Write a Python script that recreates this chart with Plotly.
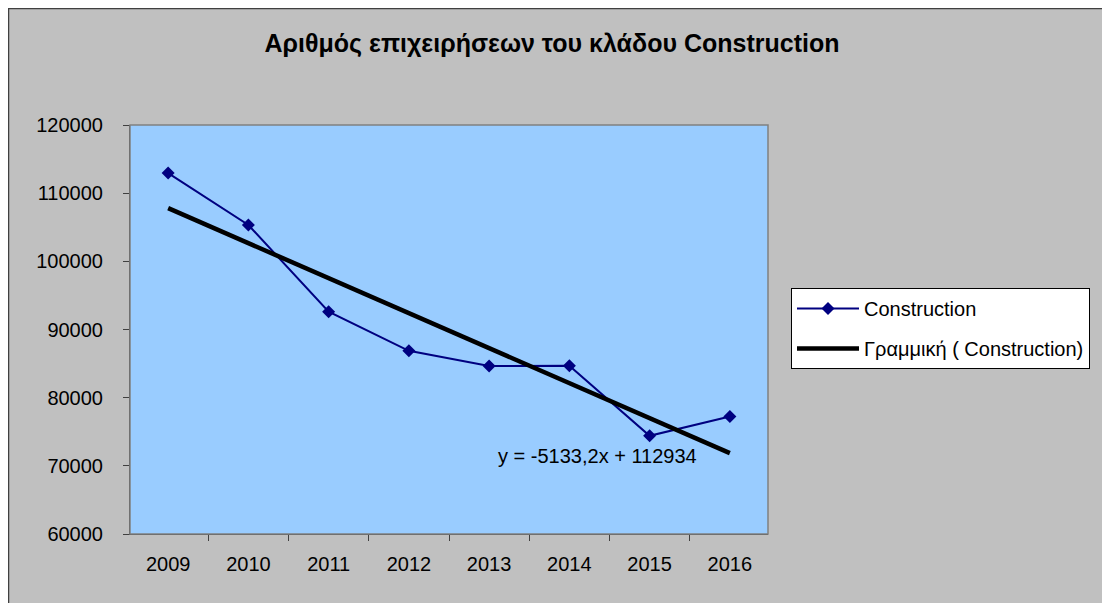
import plotly.graph_objects as go

years = ["2009", "2010", "2011", "2012", "2013", "2014", "2015", "2016"]
construction = [112950, 105330, 92620, 86870, 84650, 84700, 74400, 77230]
trend_slope = -5133.2
trend_intercept = 112934
trend_label = "y = -5133,2x + 112934"
y_ticks = [60000, 70000, 80000, 90000, 100000, 110000, 120000]

trend_vals = [trend_slope * (i + 1) + trend_intercept for i in range(len(years))]

W, H = 1110, 603
L, R, T, B = 122, 760, 117, 526

def px(x):
    return (x - L) / (R - L)

def py(y):
    return (B - y) / (B - T)

FONT = "Liberation Sans, Arial, sans-serif"

fig = go.Figure()
fig.add_trace(go.Scatter(
    x=years, y=construction, mode="lines+markers", name="Construction",
    legendgroup="a",
    line=dict(color="#000080", width=2),
    marker=dict(symbol="diamond", size=10, color="#000080"),
))
fig.add_trace(go.Scatter(
    x=years, y=trend_vals, mode="lines", name="Γραμμική ( Construction)",
    legendgroup="b",
    line=dict(color="#000000", width=4.5),
))

fig.add_annotation(
    x=px(589), y=py(448), xref="paper", yref="paper", text=trend_label,
    showarrow=False, font=dict(family=FONT, size=20, color="#000000"),
    xanchor="center", yanchor="middle",
)

# chart area border (left/top dark edge)
fig.add_shape(type="rect", xref="paper", yref="paper",
              x0=px(0), x1=px(1130), y0=py(0), y1=py(630),
              fillcolor="rgba(0,0,0,0)", line=dict(color="#404040", width=2.5), layer="below")

fig.update_layout(
    width=W, height=H,
    margin=dict(l=L, r=W - R, t=T, b=H - B, pad=0),
    paper_bgcolor="#C0C0C0",
    plot_bgcolor="#99CCFF",
    font=dict(family=FONT, size=20, color="#000000"),
    title=dict(text="<b>Αριθμός επιχειρήσεων του κλάδου Construction</b>",
               x=544 / W, xref="container", xanchor="center",
               y=1 - 35 / H, yref="container", yanchor="middle",
               font=dict(family=FONT, size=25, color="#000000")),
    showlegend=True,
    legend=dict(
        x=px(783), y=py(280), xref="paper", yref="paper",
        xanchor="left", yanchor="top",
        bgcolor="#FFFFFF", bordercolor="#000000", borderwidth=1,
        font=dict(family=FONT, size=20, color="#000000"),
        tracegroupgap=11, itemwidth=62,
    ),
)
fig.update_xaxes(
    type="category", showgrid=False, zeroline=False,
    showline=True, linecolor="#404040", linewidth=1, mirror=False,
    ticks="outside", tickson="boundaries", ticklen=6, tickcolor="#404040",
    tickfont=dict(family=FONT, size=20, color="#000000"),
    ticklabelstandoff=12,
)
fig.update_yaxes(
    range=[60000, 120000], tickvals=y_ticks, tickformat="d",
    showgrid=False, zeroline=False,
    showline=True, linecolor="#404040", linewidth=1,
    ticks="outside", ticklen=6, tickcolor="#404040",
    tickfont=dict(family=FONT, size=20, color="#000000"),
    ticklabelstandoff=16,
)
# plot area border
fig.add_shape(type="rect", xref="paper", yref="paper", x0=0, x1=1, y0=0, y1=1,
              line=dict(color="#808080", width=1.5), fillcolor="rgba(0,0,0,0)", layer="above")

fig.write_html("out.html")
